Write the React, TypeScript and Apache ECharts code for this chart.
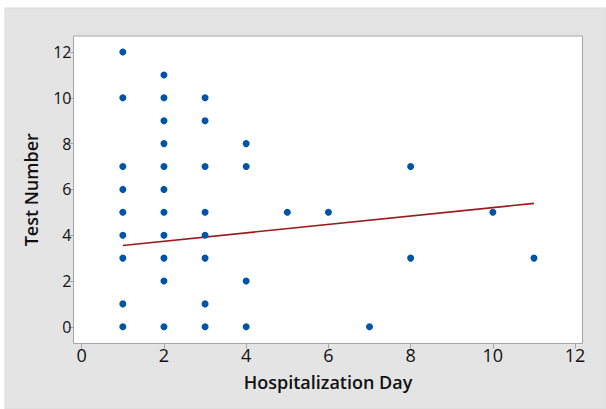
import React, { useEffect, useRef } from "react";
import * as echarts from "echarts";

// Hospitalization day (x) and test number (y) for each plotted point
const hospitalizationDays = [
  1, 1, 1, 1, 1, 1, 1, 1, 1,
  2, 2, 2, 2, 2, 2, 2, 2, 2, 2, 2,
  3, 3, 3, 3, 3, 3, 3, 3,
  4, 4, 4, 4,
  5, 6, 7, 8, 8, 10, 11,
];
const testNumbers = [
  12, 10, 7, 6, 5, 4, 3, 1, 0,
  11, 10, 9, 8, 7, 6, 5, 4, 3, 2, 0,
  10, 9, 7, 5, 4, 3, 1, 0,
  8, 7, 2, 0,
  5, 5, 0, 7, 3, 5, 3,
];

// Fitted regression line endpoints
const fitDays = [1, 11];
const fitTests = [3.55, 5.39];

// Tick labels
const xTicks = [0, 2, 4, 6, 8, 10, 12];
const yTicks = [0, 2, 4, 6, 8, 10, 12];

const FONT = "'Open Sans', 'Noto Sans', sans-serif";

export default function App() {
  const ref = useRef<HTMLDivElement>(null);

  useEffect(() => {
    if (!ref.current) return;
    const chart = echarts.init(ref.current, undefined, { renderer: "svg" });
    const points = hospitalizationDays.map((d, i) => [d, testNumbers[i]]);
    const fit = fitDays.map((d, i) => [d, fitTests[i]]);

    chart.setOption({
      animation: false,
      backgroundColor: "#ffffff",
      textStyle: { fontFamily: FONT },
      graphic: [
        {
          type: "rect",
          z: -100,
          silent: true,
          shape: { x: 5, y: 8, width: 601, height: 401 },
          style: { fill: "#e4e4e4", stroke: "#dadada", lineWidth: 1 },
        },
      ],
      grid: {
        left: 73.5,
        top: 36,
        right: 23.5,
        bottom: 65.5,
        show: true,
        backgroundColor: "#ffffff",
        borderColor: "#a6a6a6",
        borderWidth: 1,
        z: 0,
      },
      xAxis: {
        type: "value",
        min: -0.2,
        max: 12.18,
        name: "Hospitalization Day",
        nameLocation: "middle",
        nameGap: 29,
        nameTextStyle: {
          fontFamily: FONT,
          fontSize: 18,
          fontWeight: 600,
          color: "#111111",
        },
        splitLine: { show: false },
        axisLine: { show: false, onZero: false },
        axisTick: {
          show: true,
          length: 5,
          customValues: xTicks,
          lineStyle: { color: "#a6a6a6", width: 1 },
        },
        axisLabel: {
          customValues: xTicks,
          fontSize: 18,
          margin: 2,
          color: "#111111",
          fontWeight: 500,
          fontFamily: FONT,
        },
      },
      yAxis: {
        type: "value",
        min: -0.73,
        max: 12.7,
        name: "Test Number",
        nameLocation: "middle",
        nameGap: 34,
        nameTextStyle: {
          fontFamily: FONT,
          fontSize: 18,
          fontWeight: 600,
          color: "#111111",
        },
        splitLine: { show: false },
        axisLine: { show: false, onZero: false },
        axisTick: {
          show: true,
          length: 5,
          customValues: yTicks,
          lineStyle: { color: "#a6a6a6", width: 1 },
        },
        axisLabel: {
          customValues: yTicks,
          fontSize: 16,
          margin: 2,
          color: "#111111",
          fontWeight: 500,
          fontFamily: FONT,
        },
      },
      series: [
        {
          type: "line",
          data: fit,
          symbol: "none",
          lineStyle: { color: "#9a1b1b", width: 1.6 },
          z: 2,
          silent: true,
        },
        {
          type: "scatter",
          data: points,
          symbol: "circle",
          symbolSize: 7,
          itemStyle: { color: "#0054a6", opacity: 1 },
          z: 3,
        },
      ],
    });

    return () => chart.dispose();
  }, []);

  return (
    <div
      ref={ref}
      style={{ position: "absolute", left: 0, top: 0, width: 606, height: 409 }}
    />
  );
}
